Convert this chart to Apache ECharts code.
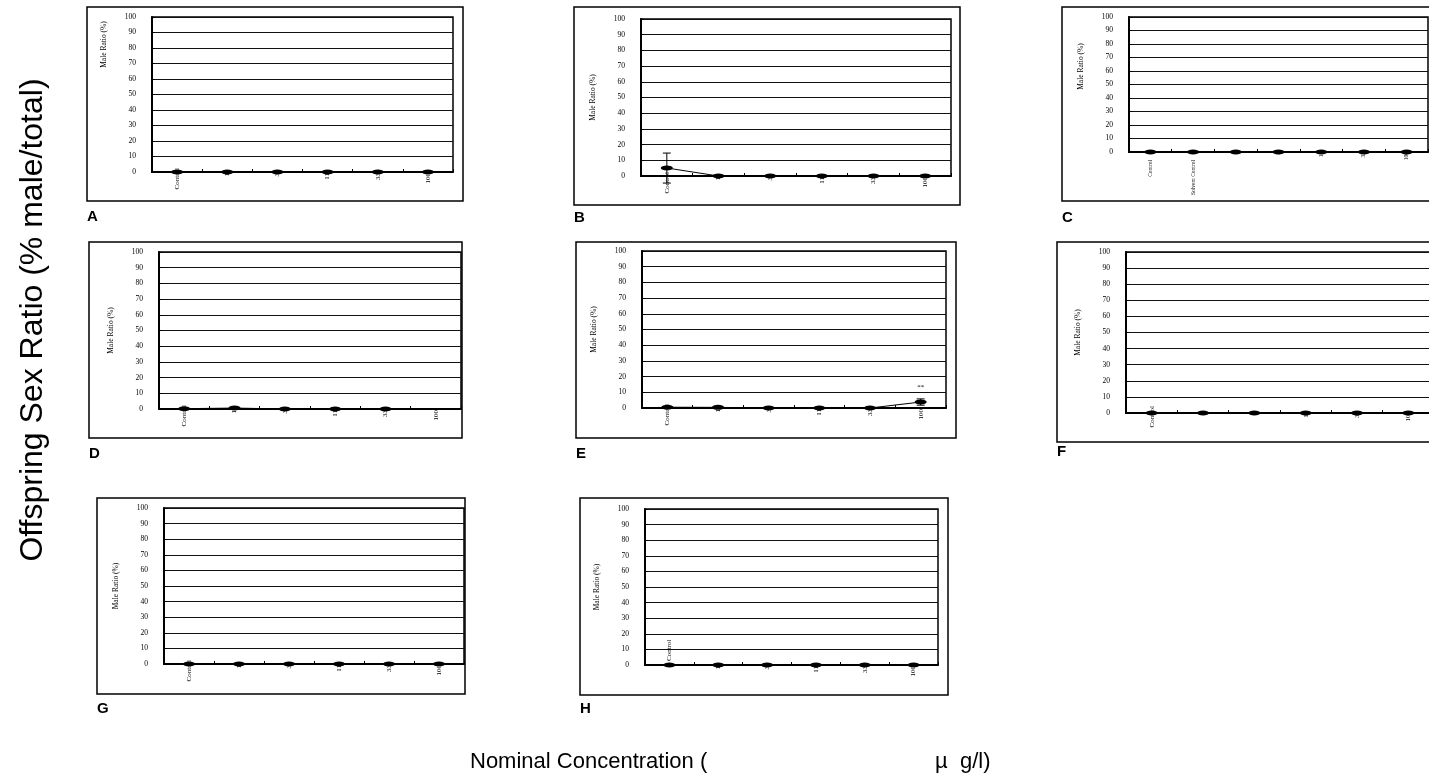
<!DOCTYPE html>
<html><head><meta charset="utf-8">
<script src="https://cdn.jsdelivr.net/npm/echarts@6/dist/echarts.min.js"></script>
<style>html,body{margin:0;padding:0;background:#fff}#c{width:1429px;height:779px}</style>
</head><body><div id="c"></div>
<script>
// ---- data ----
const categories = ['Control', '1', '3', '11', '33', '100'];
const categoriesC = ['Control', 'Solvent Control', '1', '3', '11', '33', '100'];
const valuesA = [0, 0, 0, 0, 0, 0];
const valuesB = [5.1, 0, 0, 0, 0, 0];
const errorB = [[0, -4.5, 14.6]];          // [category index, low, high]
const valuesC = [0, 0, 0, 0, 0, 0, 0];
const valuesD = [0.2, 0.6, 0, 0, 0, null];
const valuesE = [0.5, 0.4, 0, 0, 0, 3.8];
const errorE = [[5, 1.8, 5.8]];
const valuesF = [0, 0, 0, 0, 0, 0];
const valuesG = [0, 0, 0, 0, 0, 0];
const valuesH = [0, 0, 0, 0, 0, 0];
const annotationE = { index: 5, text: '**' };
const panelLetters = ['A', 'B', 'C', 'D', 'E', 'F', 'G', 'H'];
const yMin = 0, yMax = 100, yInterval = 10;
const yAxisName = 'Male Ratio (%)';
const yTitle = 'Offspring Sex Ratio (% male/total)';
const xTitleLeft = 'Nominal Concentration (';
const xTitleRight = 'µ  g/l)';

const panelData = [
  { cats: categories, vals: valuesA, err: [] },
  { cats: categories, vals: valuesB, err: errorB },
  { cats: categoriesC, vals: valuesC, err: [] },
  { cats: categories, vals: valuesD, err: [] },
  { cats: categories, vals: valuesE, err: errorE, annot: annotationE },
  { cats: categories, vals: valuesF, err: [] },
  { cats: categories, vals: valuesG, err: [] },
  { cats: categories, vals: valuesH, err: [] }
];

// ---- layout (positions / styles) ----
const layout = [
  { plot: [152, 17, 301, 155], box: [87, 7, 376, 194], letter: [87, 209], nameShift: 50 },
  { plot: [641, 19, 310, 157], box: [574, 7, 386, 198], letter: [574, 210] },
  { plot: [1129, 17, 299, 135], box: [1062, 7, 420, 194], letter: [1062, 210], nameShift: 18, xFont: 5.5, margin: -2, padCats: ['Control', 'Solvent Control'], numPad: 2 },
  { plot: [159, 252, 302, 157], box: [89, 242, 373, 196], letter: [89, 446] },
  { plot: [642, 251, 304, 157], box: [576, 242, 380, 196], letter: [576, 446] },
  { plot: [1126, 252, 308, 161], box: [1057, 242, 420, 200], letter: [1057, 444], margin: -7 },
  { plot: [164, 508, 300, 156], box: [97, 498, 368, 196], letter: [97, 701] },
  { plot: [645, 509, 293, 156], box: [580, 498, 368, 197], letter: [580, 701], upCats: ['Control'] }
];

const SERIF = 'Liberation Serif, Times New Roman, serif';
const SANS = 'Liberation Sans, Arial, sans-serif';

const grid = [], xAxis = [], yAxis = [], series = [], graphic = [];

panelData.forEach((p, i) => {
  const L = layout[i];
  grid.push({
    left: L.plot[0], top: L.plot[1], width: L.plot[2], height: L.plot[3],
    show: true, borderColor: '#000', borderWidth: 1.5, containLabel: false,
    outerBoundsMode: 'none'
  });
  const margin = L.margin !== undefined ? L.margin : -4;
  xAxis.push({
    type: 'category', gridIndex: i, boundaryGap: true,
    data: p.cats.map(c => {
      const item = { value: c };
      if (L.padCats && L.padCats.includes(c)) item.textStyle = { padding: [0, 10, 0, 0] };
      else if (L.upCats && L.upCats.includes(c)) item.textStyle = { align: 'left' };
      else if (c !== 'Control') item.textStyle = { padding: [0, L.numPad !== undefined ? L.numPad : 5, 0, 0] };
      return item;
    }),
    axisLine: { show: true, lineStyle: { color: '#000', width: 2 } },
    axisTick: { show: true, inside: true, length: 3, lineStyle: { color: '#000', width: 1 } },
    axisLabel: { rotate: 90, margin: margin, fontFamily: SERIF, fontSize: L.xFont || 7, color: '#000', interval: 0 },
    splitLine: { show: false }
  });
  yAxis.push({
    type: 'value', gridIndex: i, min: yMin, max: yMax, interval: yInterval,
    name: yAxisName, nameLocation: 'middle', nameGap: 44,
    nameTextStyle: { fontFamily: SERIF, fontSize: 7.5, color: '#000', padding: [0, 0, 0, (L.nameShift || 0) * 2] },
    axisLine: { show: true, lineStyle: { color: '#000', width: 2 } },
    axisTick: { show: true, inside: true, length: 3, lineStyle: { color: '#000', width: 1 } },
    axisLabel: { margin: 16, fontFamily: SERIF, fontSize: 7.5, color: '#000' },
    splitLine: { show: true, lineStyle: { color: '#111', width: 1 } }
  });
  series.push({
    type: 'line', xAxisIndex: i, yAxisIndex: i,
    data: p.vals.map((v, k) => {
      if (p.annot && p.annot.index === k) {
        return { value: v, label: { show: true, formatter: p.annot.text, position: 'top', distance: 9, fontFamily: SERIF, fontSize: 7, color: '#000' } };
      }
      return v;
    }),
    symbol: 'circle', symbolSize: [12, 5], showSymbol: true,
    itemStyle: { color: '#000' }, lineStyle: { color: '#000', width: 1 },
    clip: false, z: 5, animation: false, connectNulls: false
  });
  if (p.err.length) {
    series.push({
      type: 'custom', xAxisIndex: i, yAxisIndex: i, data: p.err, clip: false, z: 4, animation: false,
      renderItem: (params, api) => {
        const x = api.value(0), lo = api.value(1), hi = api.value(2);
        const a = api.coord([x, hi]), b = api.coord([x, lo]);
        const w = 4;
        const st = { stroke: '#000', lineWidth: 1 };
        return {
          type: 'group', children: [
            { type: 'line', shape: { x1: a[0], y1: a[1], x2: b[0], y2: b[1] }, style: st },
            { type: 'line', shape: { x1: a[0] - w, y1: a[1], x2: a[0] + w, y2: a[1] }, style: st },
            { type: 'line', shape: { x1: b[0] - w, y1: b[1], x2: b[0] + w, y2: b[1] }, style: st }
          ]
        };
      }
    });
  }
  graphic.push({
    type: 'rect', shape: { x: L.box[0], y: L.box[1], width: L.box[2], height: L.box[3] },
    style: { fill: 'none', stroke: '#000', lineWidth: 1.5 }, z: 10, silent: true
  });
  graphic.push({
    type: 'text', x: L.letter[0], y: L.letter[1],
    style: { text: panelLetters[i], font: 'bold 15px ' + SANS, fill: '#000', textAlign: 'left', textVerticalAlign: 'top' }
  });
});

graphic.push({
  type: 'text', x: 33, y: 320, rotation: Math.PI / 2,
  style: { text: yTitle, font: '32px ' + SANS, fill: '#000', textAlign: 'center', textVerticalAlign: 'middle' }
});
graphic.push({
  type: 'text', x: 470, y: 762,
  style: { text: xTitleLeft, font: '22px ' + SANS, fill: '#000', textAlign: 'left', textVerticalAlign: 'middle' }
});
graphic.push({
  type: 'text', x: 935, y: 762,
  style: { text: xTitleRight, font: '22px ' + SANS, fill: '#000', textAlign: 'left', textVerticalAlign: 'middle' }
});

const chart = echarts.init(document.getElementById('c'), null, { renderer: 'canvas' });
chart.setOption({ animation: false, backgroundColor: '#fff', grid, xAxis, yAxis, series, graphic });
</script></body></html>
